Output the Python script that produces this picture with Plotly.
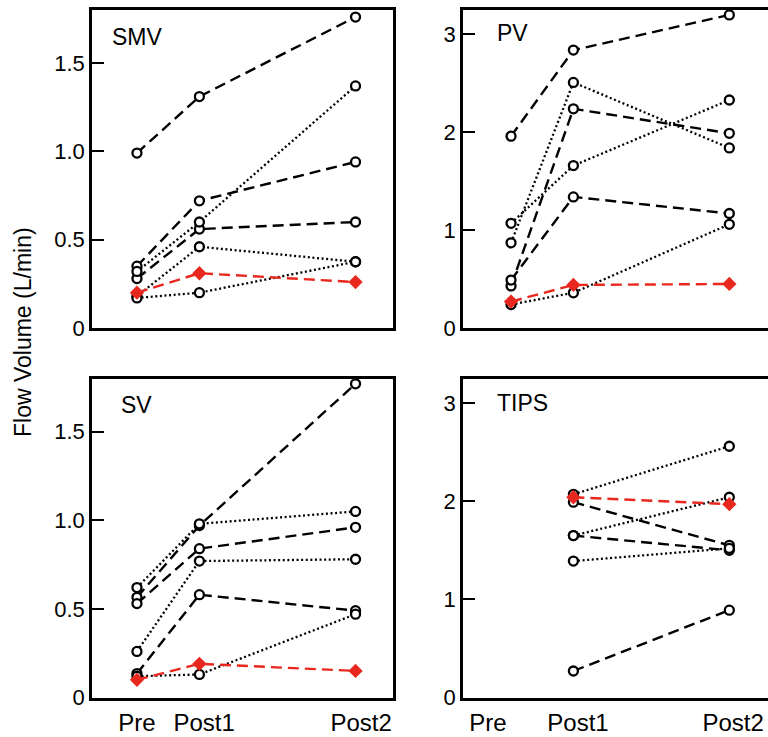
import plotly.graph_objects as go

# ---------------- data ----------------
x_pos = [0, 1, 3.5]                 # Pre, Post1, Post2 (unequal spacing as in the figure)
tick_labels = ["Pre", "Post1", "Post2"]

# SMV panel
smv_dash = [[0.99, 1.31, 1.76], [0.35, 0.72, 0.94], [0.28, 0.56, 0.60]]
smv_dot = [[0.32, 0.60, 1.37], [0.18, 0.46, 0.375], [0.17, 0.20, 0.375]]
smv_red = [0.20, 0.31, 0.26]

# PV panel
pv_dash = [[1.96, 2.84, 3.20], [0.43, 2.24, 1.99], [0.49, 1.34, 1.17]]
pv_dot = [[0.87, 2.51, 1.84], [1.07, 1.66, 2.33], [0.24, 0.36, 1.06]]
pv_red = [0.27, 0.44, 0.45]

# SV panel
sv_dash = [[0.565, 0.97, 1.77], [0.53, 0.84, 0.96], [0.135, 0.58, 0.49]]
sv_dot = [[0.62, 0.98, 1.05], [0.26, 0.77, 0.78], [0.12, 0.13, 0.47]]
sv_red = [0.10, 0.19, 0.15]

# TIPS panel (no Pre values)
tips_dash = [[None, 1.99, 1.55], [None, 1.65, 1.50], [None, 0.27, 0.89]]
tips_dot = [[None, 2.07, 2.56], [None, 1.65, 2.04], [None, 1.39, 1.52]]
tips_red = [None, 2.04, 1.97]

panels = [
    ("SMV", smv_dash, smv_dot, smv_red, "x", "y"),
    ("PV", pv_dash, pv_dot, pv_red, "x2", "y2"),
    ("SV", sv_dash, sv_dot, sv_red, "x3", "y3"),
    ("TIPS", tips_dash, tips_dot, tips_red, "x4", "y4"),
]

# ---------------- figure ----------------
W, H = 768, 737
FONT = "Liberation Sans, Arial, Helvetica, sans-serif"
fig = go.Figure()

DASH = "11px,6px"
DOT = "2px,2.6px"
RED = "#e8281e"

circle = dict(symbol="circle", size=9, color="white", line=dict(color="black", width=2.3))
diamond = dict(symbol="diamond", size=11, color=RED, line=dict(color=RED, width=0))

for name, dashes, dots, red, xa, ya in panels:
    for ys in dashes:
        fig.add_trace(go.Scatter(x=x_pos, y=ys, xaxis=xa, yaxis=ya, mode="lines+markers",
                                 line=dict(color="black", width=2.4, dash=DASH),
                                 marker=circle, showlegend=False, hoverinfo="skip"))
    for ys in dots:
        fig.add_trace(go.Scatter(x=x_pos, y=ys, xaxis=xa, yaxis=ya, mode="lines+markers",
                                 line=dict(color="black", width=2.3, dash=DOT),
                                 marker=circle, showlegend=False, hoverinfo="skip"))
    fig.add_trace(go.Scatter(x=x_pos, y=red, xaxis=xa, yaxis=ya, mode="lines+markers",
                             line=dict(color=RED, width=2.4, dash=DASH),
                             marker=diamond, showlegend=False, hoverinfo="skip"))

def px_x(p):
    return p / W

def px_y(p):
    return 1 - p / H

left_dom = [px_x(92), px_x(393)]
right_dom = [px_x(463), 1.0]
top_dom = [px_y(328), px_y(10)]
bot_dom = [px_y(697.5), px_y(378.5)]

common_ax = dict(showgrid=False, zeroline=False, showline=True, linecolor="black",
                 linewidth=2.5, ticks="inside", ticklen=12, tickwidth=2, tickcolor="black",
                 automargin=False,
                 tickfont=dict(family=FONT, size=22, color="black"))

xl = dict(common_ax, ticks="", range=[-0.72, 4.10], mirror=True, fixedrange=True,
          ticklabelstandoff=2, tickfont=dict(family=FONT, size=24, color="black"))
xr = dict(common_ax, ticks="", range=[-0.77, 4.12], mirror=True, fixedrange=True,
          ticklabelstandoff=2, tickfont=dict(family=FONT, size=24, color="black"))

fig.update_layout(
    width=W, height=H,
    margin=dict(l=0, r=0, t=0, b=0, autoexpand=False),
    paper_bgcolor="white", plot_bgcolor="white",
    xaxis=dict(xl, domain=left_dom, anchor="y", showticklabels=False),
    yaxis=dict(common_ax, domain=top_dom, anchor="x", range=[0, 1.8], mirror=True,
               tickvals=[0, 0.5, 1.0, 1.5], ticktext=["0", "0.5", "1.0", "1.5"]),
    xaxis2=dict(xr, domain=right_dom, anchor="y2", showticklabels=False),
    yaxis2=dict(common_ax, domain=top_dom, anchor="x2", range=[0, 3.25], mirror=False,
                tickvals=[0, 1, 2, 3], ticktext=["0", "1", "2", "3"]),
    xaxis3=dict(xl, domain=left_dom, anchor="y3", tickvals=[0, 1.076, 3.59], ticktext=tick_labels),
    yaxis3=dict(common_ax, domain=bot_dom, anchor="x3", range=[0, 1.8], mirror=True,
                tickvals=[0, 0.5, 1.0, 1.5], ticktext=["0", "0.5", "1.0", "1.5"]),
    xaxis4=dict(xr, domain=right_dom, anchor="y4", tickvals=[-0.37, 1.074, 3.56], ticktext=tick_labels),
    yaxis4=dict(common_ax, domain=bot_dom, anchor="x4", range=[0, 3.25], mirror=False,
                tickvals=[0, 1, 2, 3], ticktext=["0", "1", "2", "3"]),
)

annos = [
    ("SMV", 110, 37), ("PV", 495, 33), ("SV", 119, 405), ("TIPS", 495, 403),
]
for txt, x, y in annos:
    fig.add_annotation(text=txt, x=px_x(x), y=px_y(y), xref="paper", yref="paper",
                       xanchor="left", yanchor="middle", showarrow=False,
                       font=dict(family=FONT, size=23, color="black"))

fig.add_annotation(text="Flow Volume (L/min)", x=px_x(23), y=px_y(332), xref="paper", yref="paper",
                   xanchor="center", yanchor="middle", showarrow=False, textangle=-90,
                   font=dict(family=FONT, size=23, color="black"))

fig.write_html("out.html", config={"displayModeBar": False},
               post_script="document.body.style.margin='0';document.body.style.overflow='hidden';")
